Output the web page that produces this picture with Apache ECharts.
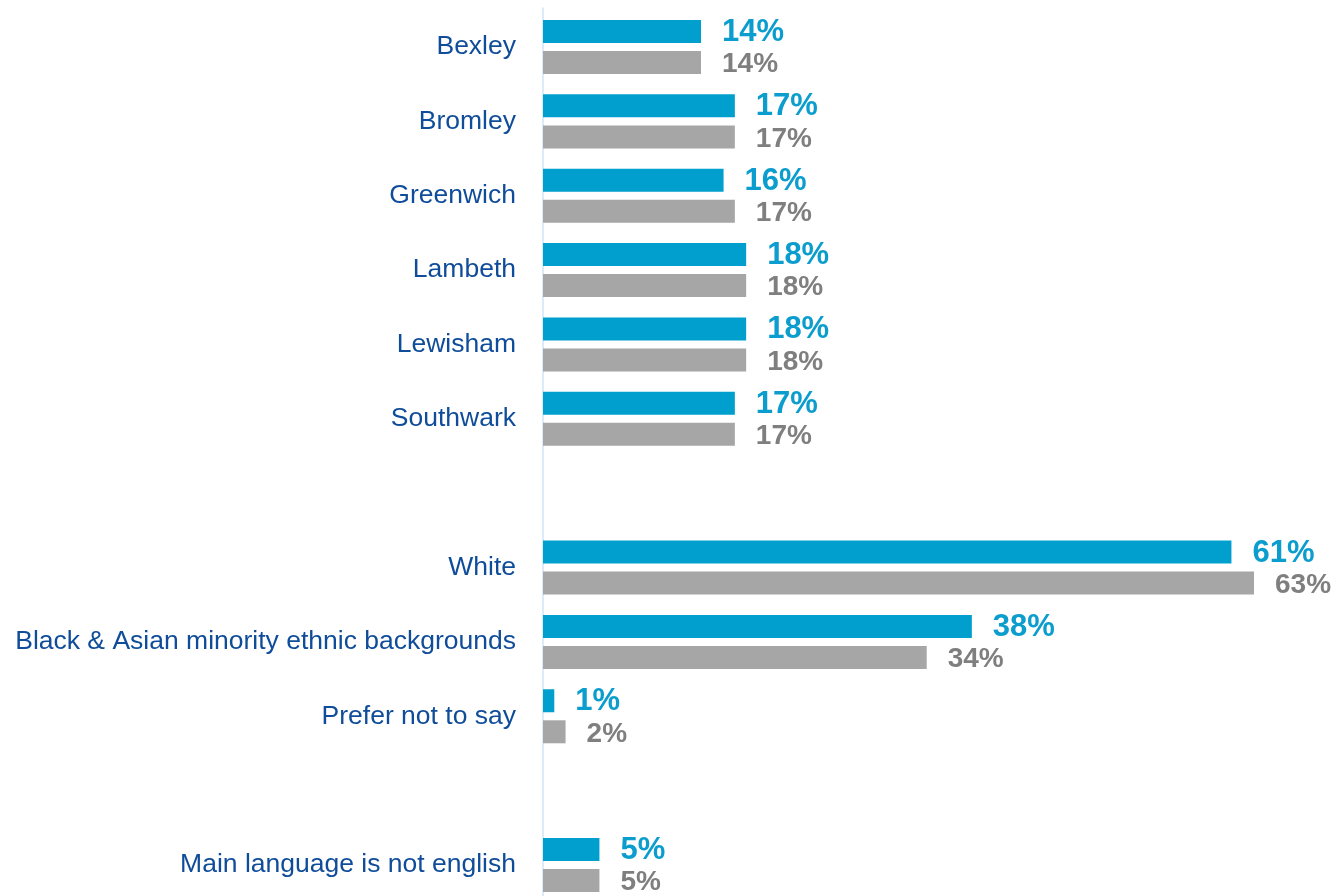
<!DOCTYPE html>
<html>
<head>
<meta charset="utf-8">
<script src="https://cdn.jsdelivr.net/npm/echarts@6/dist/echarts.min.js"></script>
<style>
  html, body { margin: 0; padding: 0; background: #ffffff; }
  #chart { width: 1335px; height: 896px; }
</style>
</head>
<body>
<div id="chart"></div>
<script>
// Row labels; blank entries are spacer rows between the groups
var categories = [
  'Bexley', 'Bromley', 'Greenwich', 'Lambeth', 'Lewisham', 'Southwark',
  ' ',
  'White', 'Black & Asian minority ethnic backgrounds', 'Prefer not to say',
  '  ',
  'Main language is not english'
];

// Percentages (blue series, upper bar of each pair)
var blueValues = [14, 17, 16, 18, 18, 17, null, 61, 38, 1, null, 5];
// Percentages (grey series, lower bar of each pair)
var greyValues = [14, 17, 17, 18, 18, 17, null, 63, 34, 2, null, 5];

var FONT = '"Liberation Sans", Arial, sans-serif';

var chart = echarts.init(document.getElementById('chart'), null, { renderer: 'canvas' });

function pct(p) { return p.value + '%'; }

chart.setOption({
  animation: false,
  backgroundColor: '#ffffff',
  grid: [
    // bars: rows are centred on the category ticks
    { left: 543, right: 81, top: 47, bottom: 31, containLabel: false },
    // full-height baseline running down the left of the bars
    { left: 543, right: 81, top: 8, bottom: 0, containLabel: false }
  ],
  xAxis: [
    { gridIndex: 0, type: 'value', min: 0, max: 63, show: false },
    { gridIndex: 1, type: 'value', min: 0, max: 63, show: false }
  ],
  yAxis: [
    {
      gridIndex: 0,
      type: 'category',
      data: categories,
      inverse: true,
      boundaryGap: false,
      offset: 4,
      axisLine: { show: false },
      axisTick: { show: false },
      splitLine: { show: false },
      axisLabel: {
        margin: 23,
        padding: [3, 0, 0, 0],
        fontSize: 26.5,
        color: '#0f4c99',
        fontFamily: FONT
      }
    },
    {
      gridIndex: 1,
      type: 'value',
      min: 0,
      max: 1,
      offset: 4,
      axisLine: { show: true, lineStyle: { color: '#cfe4f8', width: 1.5 } },
      axisTick: { show: false },
      axisLabel: { show: false },
      splitLine: { show: false }
    }
  ],
  series: [
    {
      name: 'blue',
      type: 'bar',
      xAxisIndex: 0,
      yAxisIndex: 0,
      data: blueValues,
      barWidth: 23,
      barGap: '35%',
      itemStyle: { color: '#009fcd' },
      label: {
        show: true,
        position: 'right',
        distance: 21,
        offset: [0, 1],
        formatter: pct,
        color: '#0b9dcd',
        fontSize: 31,
        fontWeight: 'bold',
        fontFamily: FONT
      }
    },
    {
      name: 'grey',
      type: 'bar',
      xAxisIndex: 0,
      yAxisIndex: 0,
      data: greyValues,
      barWidth: 23,
      barGap: '35%',
      itemStyle: { color: '#a6a6a6' },
      label: {
        show: true,
        position: 'right',
        distance: 21,
        offset: [0, 2],
        formatter: pct,
        color: '#7f7f7f',
        fontSize: 28,
        fontWeight: 'bold',
        fontFamily: FONT
      }
    }
  ]
});
</script>
</body>
</html>
